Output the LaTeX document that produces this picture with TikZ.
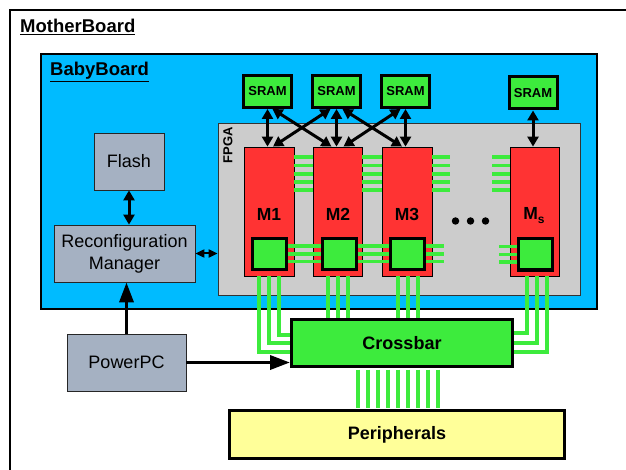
\documentclass[tikz,border=0pt]{standalone}
\usepackage{fontspec}
\setmainfont{Liberation Sans}
\usetikzlibrary{arrows.meta,calc}
\definecolor{cyanb}{HTML}{00BBFF}
\definecolor{fpgagray}{HTML}{CCCCCC}
\definecolor{redm}{HTML}{FF3333}
\definecolor{grn}{HTML}{3DEB3D}
\definecolor{yel}{HTML}{FFFF99}
\definecolor{grayblue}{HTML}{A5B1C2}
\tikzset{
  boardbox/.style={draw, line width=2pt, inner sep=0pt},
  srambox/.style={draw, line width=3pt, fill=grn, minimum width=48pt, minimum height=32pt, inner sep=0pt, font=\fontsize{13}{13}\selectfont\bfseries},
  mblk/.style={draw, line width=0.8pt, fill=redm, minimum height=129pt, inner sep=0pt},
  gsq/.style={draw, line width=3pt, fill=grn, minimum width=34pt, minimum height=31pt, inner sep=0pt},
  gbox/.style={draw=black!85, line width=0.8pt, fill=grayblue, font=\fontsize{18}{22}\selectfont, align=center, inner sep=0pt},
  bigbox/.style={draw, line width=3pt, inner sep=0pt, font=\fontsize{18}{18}\selectfont\bfseries},
  bus/.style={grn, line width=3.5pt},
  mlabel/.style={font=\fontsize{17.5}{17.5}\selectfont\bfseries, inner sep=0pt},
  titlelabel/.style={font=\fontsize{18.5}{18.5}\selectfont\bfseries, inner sep=0pt, anchor=base west},
  dblarr/.style={line width=3pt, {Triangle[length=10pt,width=11pt]}-{Triangle[length=10pt,width=11pt]}},
  smallarr/.style={line width=2pt, {Triangle[length=9pt,width=8pt]}-{Triangle[length=9pt,width=8pt]}},
  onearr/.style={line width=3.5pt, -{Triangle[length=20pt,width=14pt]}},
  dotmark/.style={circle, fill=black, minimum size=7.5pt, inner sep=0pt}
}
\begin{document}
\begin{tikzpicture}[x=1pt,y=-1pt]
\useasboundingbox (0,0) rectangle (626,470);
\fill[white] (0,0) rectangle (626,470);

% MotherBoard frame (continues beyond the picture on the right and bottom)
\coordinate (mbbl) at (10,480);
\coordinate (mbtl) at (10,10);
\coordinate (mbtr) at (640,10);
\draw[line width=2pt] (mbbl) -- (mbtl) -- (mbtr);
\node[titlelabel] (mblabel) at (20,33) {\underline{MotherBoard}};

% BabyBoard
\node[boardbox, fill=cyanb, minimum width=556pt, minimum height=255pt] (bb) at (319,181.5) {};
\node[titlelabel] (bblabel) at (50,76) {\underline{BabyBoard}};

% FPGA
\node[draw=black!80, line width=0.8pt, fill=fpgagray, minimum width=362pt, minimum height=172pt, inner sep=0pt] (fpga) at (399,209) {};
\node[rotate=90, font=\fontsize{13}{13}\selectfont\bfseries, inner sep=0pt] (fpgalabel) at (228,145) {FPGA};

% SRAMs
\node[srambox] (s1) at (267.5,91.5) {SRAM};
\node[srambox] (s2) at (336.5,91.5) {SRAM};
\node[srambox] (s3) at (405.5,91.5) {SRAM};
\node[srambox] (s4) at (533,93) {SRAM};

% M blocks
\node[mblk, minimum width=50pt] (m1) at (269,211.5) {};
\node[mblk, minimum width=49pt] (m2) at (337.5,211.5) {};
\node[mblk, minimum width=50pt] (m3) at (407,211.5) {};
\node[mblk, minimum width=49pt] (ms) at (534.5,211.5) {};

% top green lines between blocks
\foreach \o in {-54.5,-46,-37.5,-29.5,-21.5}{
  \draw[bus] ($(m1.east)+(0,\o)$) -- ($(m2.west)+(0,\o)$);
  \draw[bus] ($(m2.east)+(0,\o)$) -- ($(m3.west)+(0,\o)$);
  \draw[bus] ($(m3.east)+(0,\o)$) -- ++(18,0);
  \draw[bus] ($(ms.west)+(0,\o)$) -- ++(-18,0);
}

% green sub-blocks
\node[gsq] (g1) at (269.5,254) {};
\node[gsq] (g2) at (339,254) {};
\node[gsq] (g3) at (407,254) {};
\node[gsq] (gs) at (535,254.5) {};

% bottom green lines between sub-blocks
\foreach \o in {-8,0,7.5}{
  \draw[bus] ($(g1.east)+(0,\o)$) -- ($(g2.west)+(0,\o)$);
  \draw[bus] ($(g2.east)+(0,\o)$) -- ($(g3.west)+(0,\o)$);
  \draw[bus] ($(g3.east)+(0,\o)$) -- ++(18,0);
  \draw[bus] ($(gs.west)+(0,\o)$) -- ++(-18,0);
}
\node[gsq] at (g1) {};
\node[gsq] at (g2) {};
\node[gsq] at (g3) {};
\node[gsq] at (gs) {};

% M labels
\node[mlabel] (l1) at (269,214.5) {M1};
\node[mlabel] (l2) at (338,214.5) {M2};
\node[mlabel] (l3) at (407,214.5) {M3};
\node[mlabel] (ls) at (534,216) {M\raisebox{-4pt}{\fontsize{12}{12}\selectfont s}};

% dots
\node[dotmark] (d1) at (455.5,221) {};
\node[dotmark] (d2) at (470.5,221) {};
\node[dotmark] (d3) at (485.5,221) {};

% SRAM arrows
\draw[dblarr] (s1.south) -- (s1.south |- m1.north);
\draw[dblarr] (s2.south) -- (s2.south |- m2.north);
\draw[dblarr] (s3.south) -- (s3.south |- m3.north);
\draw[dblarr] (s4.south) -- (s4.south |- ms.north);
\draw[dblarr] ($(s1.south)+(5,0)$) -- ($(m2.north)+(-6,0)$);
\draw[dblarr] ($(s2.south)+(-6,0)$) -- ($(m1.north)+(4,0)$);
\draw[dblarr] ($(s2.south)+(6,0)$) -- ($(m3.north)+(-5,0)$);
\draw[dblarr] ($(s3.south)+(-5,0)$) -- ($(m2.north)+(6,0)$);

% Crossbar and peripherals positions
\coordinate (xbc) at (402,343);
\foreach \dx/\dy in {-10/9,0/0,10/-8}{
  \draw[bus] ($(m1.south)+(\dx,0)$) |- ($(xbc)+(-112,\dy)$);
}
\foreach \dx/\dy in {12.5/9,2.5/0,-7.5/-10}{
  \draw[bus] ($(ms.south)+(\dx,0)$) |- ($(xbc)+(112,\dy)$);
}
\foreach \dx in {-9.5,0.5,10.5}{
  \draw[bus] ($(m2.south)+(\dx,0)$) -- ++(0,44);
}
\foreach \dx in {-9,1,11}{
  \draw[bus] ($(m3.south)+(\dx,0)$) -- ++(0,44);
}
\node[bigbox, fill=grn, minimum width=221pt, minimum height=47pt] (xbar) at (xbc) {Crossbar};
\node[bigbox, fill=yel, minimum width=335pt, minimum height=48pt] (periph) at (397,434.5) {Peripherals};
\foreach \i in {0,...,8}{
  \coordinate (b\i) at ($(xbar.south)+({-44+10*\i},1.5)$);
  \draw[bus] (b\i) -- ($(b\i |- periph.north)+(0,-1.5)$);
}

% left side boxes
\node[gbox, minimum width=70pt, minimum height=57pt] (flash) at (129,161.5) {Flash};
\node[gbox, minimum width=141pt, minimum height=57pt] (rm) at (124.5,253.5) {Reconfiguration\\Manager};
\node[gbox, minimum width=119pt, minimum height=57pt] (ppc) at (126.5,362.5) {PowerPC};

\draw[dblarr] (flash.south) -- (flash.south |- rm.north);
\draw[smallarr] (rm.east) -- (rm.east -| fpga.west);
\draw[onearr] (ppc.north) -- (ppc.north |- rm.south);
\draw[onearr] (ppc.east) -- (ppc.east -| xbar.west);
\end{tikzpicture}
\end{document}
